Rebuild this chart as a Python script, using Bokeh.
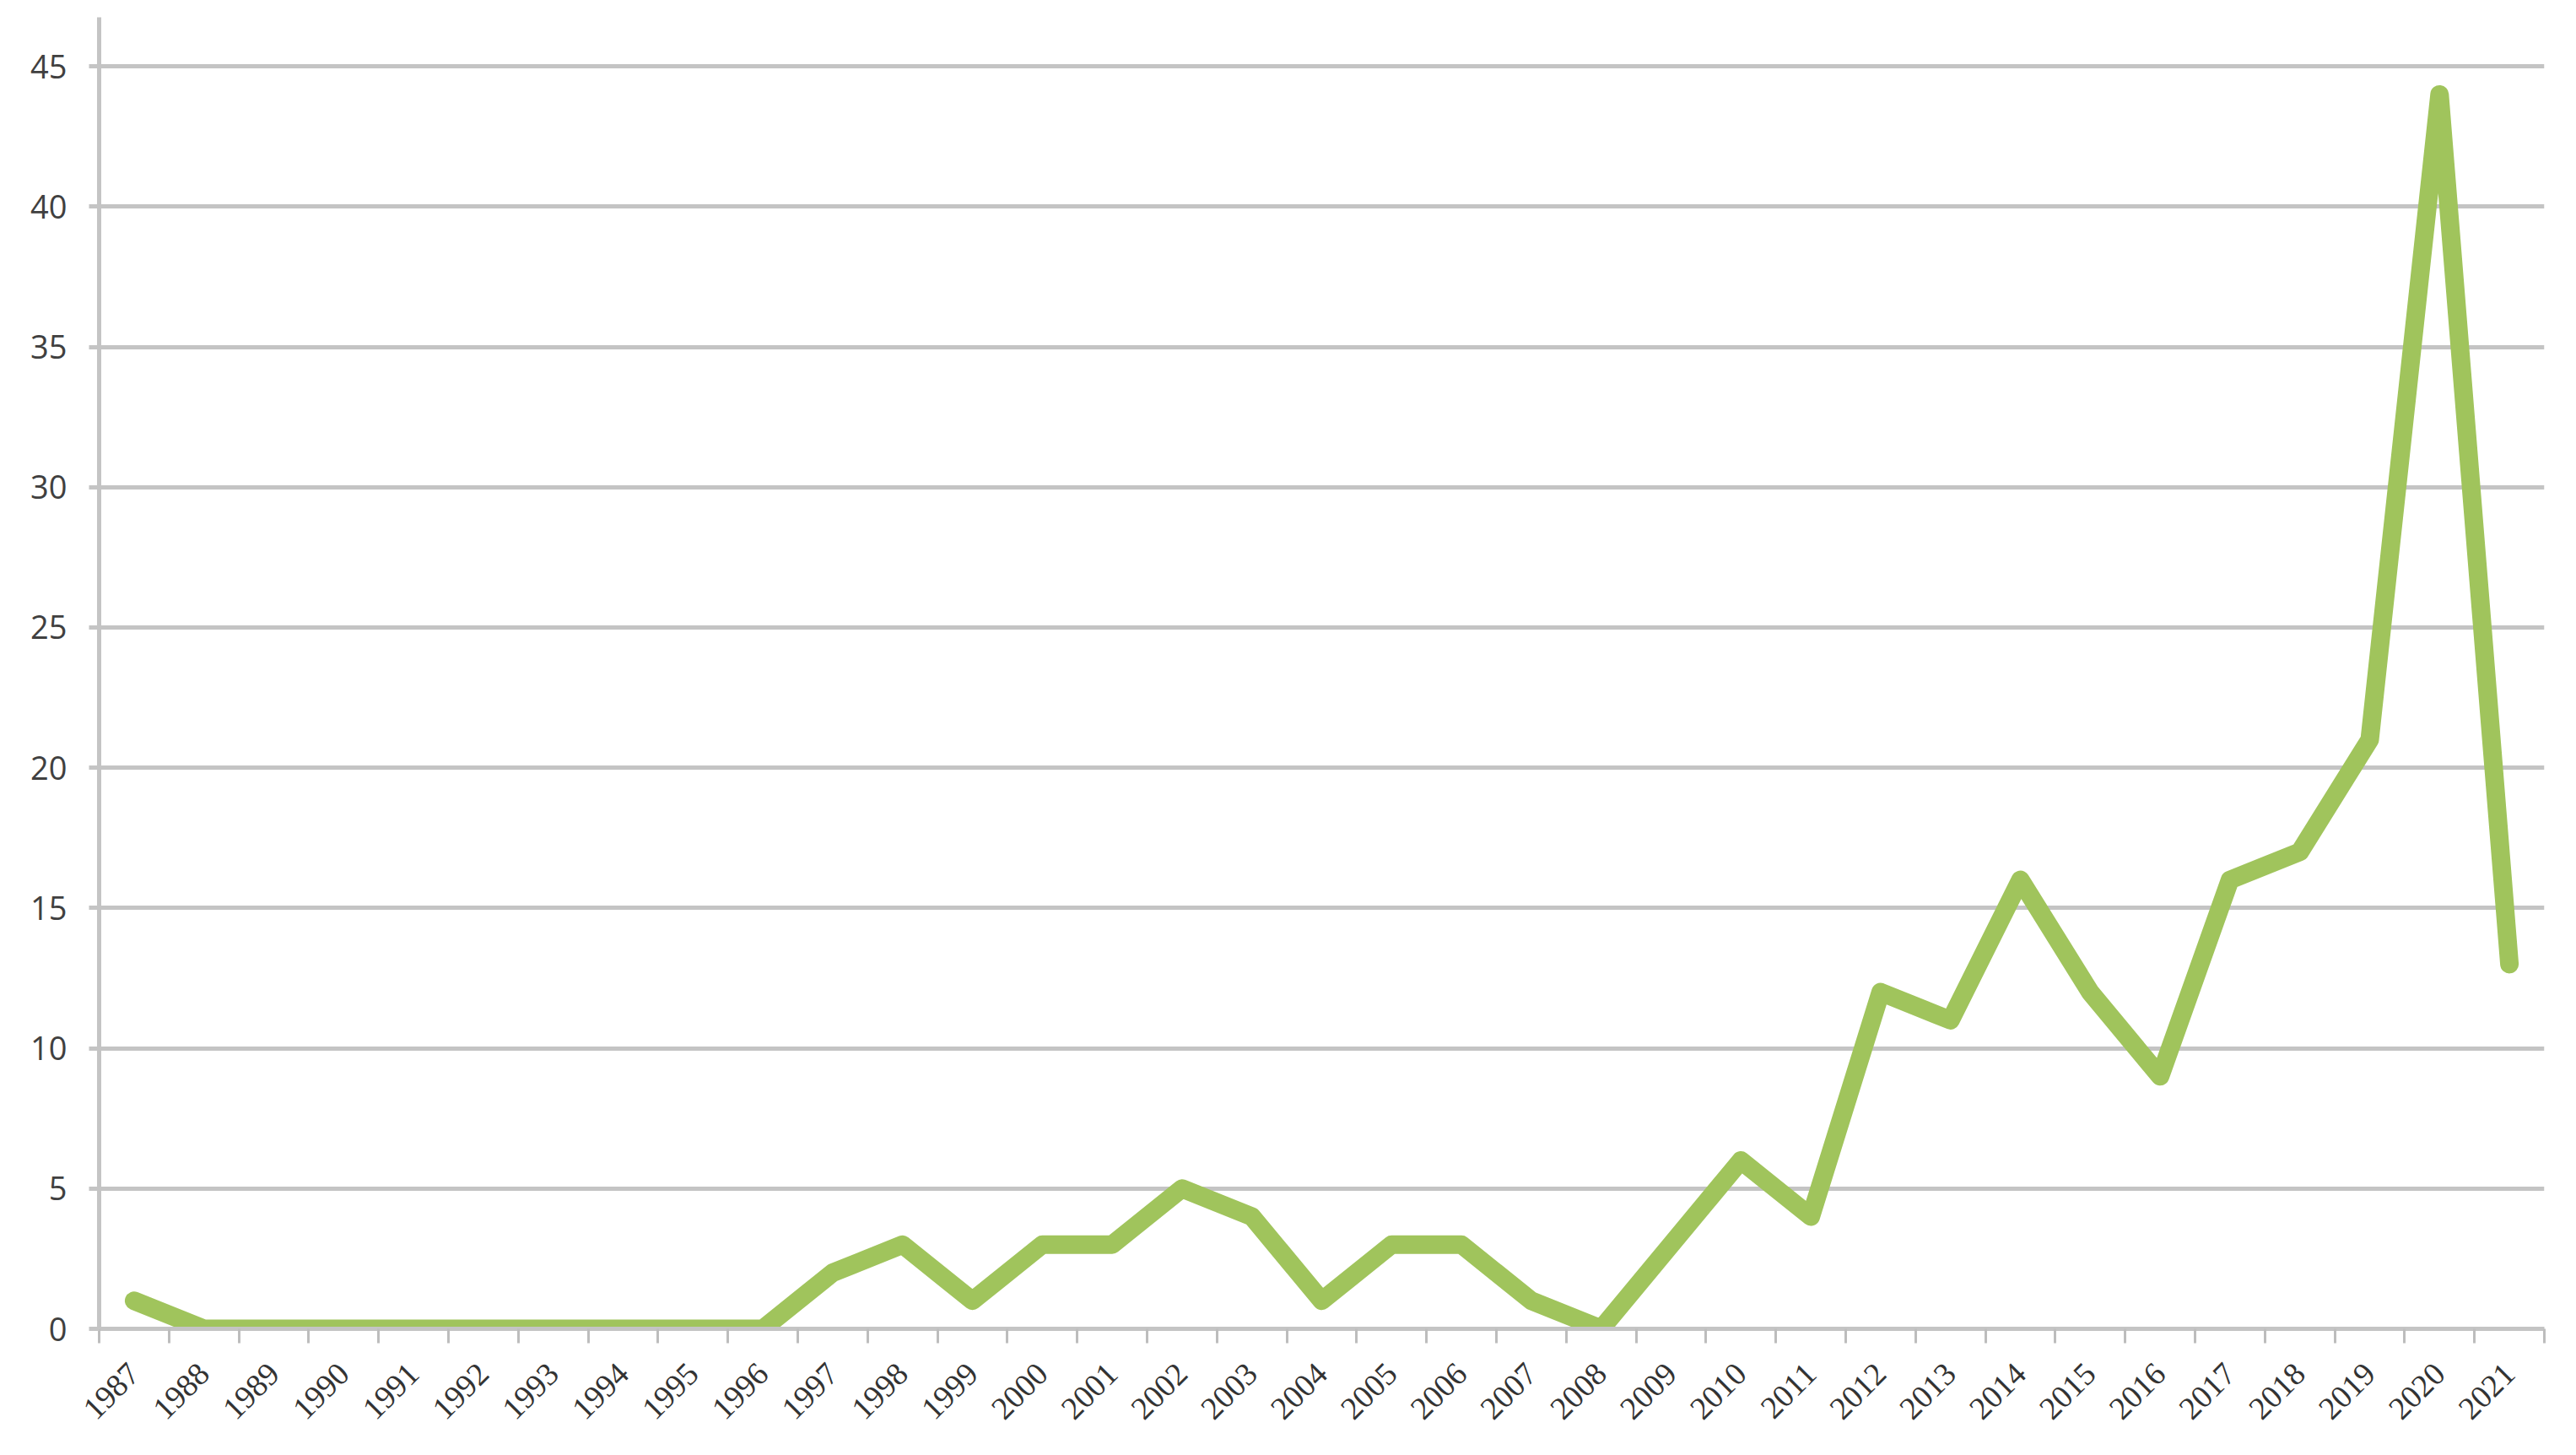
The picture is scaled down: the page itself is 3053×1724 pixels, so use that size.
from bokeh.plotting import figure
from bokeh.models import FixedTicker, Range1d
from bokeh.embed import file_html
from bokeh.resources import INLINE
import math

years = list(range(1987, 2022))
counts = [1, 0, 0, 0, 0, 0, 0, 0, 0, 0,
          2, 3, 1, 3, 3, 5, 4, 1, 3, 3,
          1, 0, 3, 6, 4, 12, 11, 16, 12, 9,
          16, 17, 21, 44, 13]
y_ticks = [0, 5, 10, 15, 20, 25, 30, 35, 40, 45]
x_labels = [str(y) for y in years]

W, H = 3037, 1708
p = figure(width=W, height=H, output_backend="svg", toolbar_location=None,
           x_range=Range1d(years[0] - 0.5, years[-1] + 0.5),
           y_range=Range1d(0, 46.75),
           min_border_left=117, min_border_right=22,
           min_border_top=20, min_border_bottom=134)
p.outline_line_color = None
p.background_fill_color = "white"
p.border_fill_color = "white"

# x axis
p.xaxis.ticker = FixedTicker(ticks=years,
                             minor_ticks=[y - 0.5 for y in years] + [years[-1] + 0.5])
p.xaxis.major_label_overrides = {y: lab for y, lab in zip(years, x_labels)}
p.xaxis.major_tick_out = 0
p.xaxis.major_tick_in = 0
p.xaxis.minor_tick_out = 17
p.xaxis.minor_tick_in = 0
p.xaxis.minor_tick_line_color = "#bdbdbd"
p.xaxis.minor_tick_line_width = 3
p.xaxis.axis_line_color = "#c4c4c4"
p.xaxis.axis_line_width = 5
p.xaxis.major_label_orientation = math.pi / 4
p.xaxis.major_label_standoff = 30
p.xaxis.major_label_text_font = "Liberation Serif"
p.xaxis.major_label_text_font_size = "38px"
p.xaxis.major_label_text_color = "#333333"
p.xgrid.grid_line_color = None

# y axis
p.yaxis.ticker = FixedTicker(ticks=y_ticks)
p.yaxis.major_tick_out = 12
p.yaxis.major_tick_in = 0
p.yaxis.minor_tick_line_color = None
p.yaxis.major_tick_line_color = "#c4c4c4"
p.yaxis.major_tick_line_width = 5
p.yaxis.axis_line_color = "#c4c4c4"
p.yaxis.axis_line_width = 5
p.yaxis.major_label_standoff = 26
p.yaxis.major_label_text_font = "Open Sans"
p.yaxis.major_label_text_font_size = "38px"
p.yaxis.major_label_text_color = "#404040"
p.ygrid.grid_line_color = "#c4c4c4"
p.ygrid.grid_line_width = 5

p.line(years, counts, line_color="#a0c45c", line_width=22,
       line_join="round", line_cap="round")

open("out.html", "w").write(file_html(p, INLINE))
